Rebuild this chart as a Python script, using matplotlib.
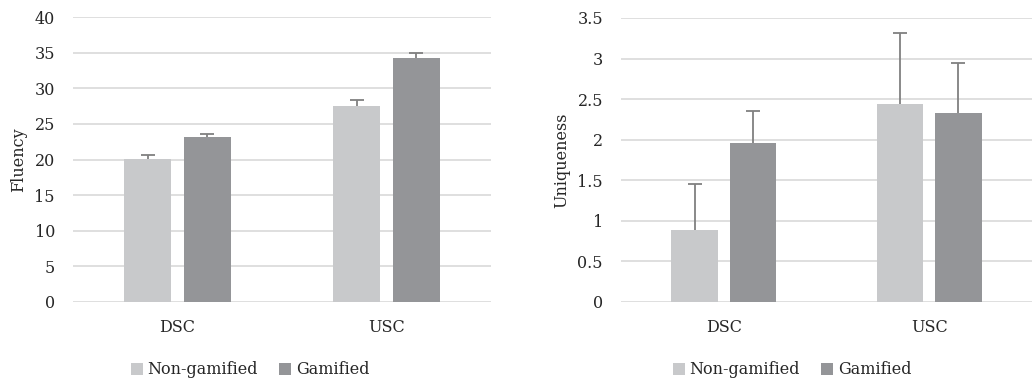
import matplotlib.pyplot as plt
import numpy as np

# ----------------------------------------------------
# Data
# ----------------------------------------------------
categories = ["DSC", "USC"]
series = ["Non-gamified", "Gamified"]

fluency_non = [20.1, 27.5]
fluency_non_err = [0.6, 0.9]
fluency_gam = [23.2, 34.3]
fluency_gam_err = [0.4, 0.6]

unique_non = [0.89, 2.44]
unique_non_err = [0.57, 0.87]
unique_gam = [1.96, 2.33]
unique_gam_err = [0.39, 0.61]

light = "#c8c9cb"
dark = "#949598"
errc = "#808080"
gridc = "#d9d9d9"

plt.rcParams['font.family'] = ['DejaVu Serif']
plt.rcParams['font.size'] = 11

fig = plt.figure(figsize=(10.35, 3.83), dpi=100)
W, H = 1035, 383

def upper_err(ax, xs, vals, errs):
    # only the upper half of the error bar, with a cap on top
    top = np.array(vals) + np.array(errs)
    ax.errorbar(xs, vals, yerr=[[0] * len(vals), errs], fmt='none',
                ecolor=errc, elinewidth=1.3, capsize=0, zorder=3)
    ax.plot(xs, top, linestyle='none', marker='_', markersize=10,
            markeredgewidth=1.3, color=errc, zorder=3)

def bar_panel(rect, non, non_err, gam, gam_err, ylim, step, ylabel, leg_x):
    ax = fig.add_axes(rect)
    x = np.arange(len(categories))
    w = 0.225
    off = 0.142
    ax.bar(x - off, non, w, color=light, label=series[0], zorder=2)
    upper_err(ax, x - off, non, non_err)
    ax.bar(x + off, gam, w, color=dark, label=series[1], zorder=2)
    upper_err(ax, x + off, gam, gam_err)
    ax.set_xlim(-0.5, len(categories) - 0.5)
    ax.set_ylim(*ylim)
    ticks = np.arange(ylim[0], ylim[1] + step / 2, step)
    ax.set_yticks(ticks)
    ax.set_yticklabels([f"{t:g}" for t in ticks])
    ax.set_xticks(x)
    ax.set_xticklabels(categories)
    ax.grid(axis='y', color=gridc, linewidth=1.2, zorder=0)
    ax.set_axisbelow(True)
    for s in ax.spines.values():
        s.set_visible(False)
    ax.tick_params(axis='both', length=0, colors="#262626", labelsize=11.5)
    ax.tick_params(axis='y', pad=13)
    ax.tick_params(axis='x', pad=12)
    ax.set_ylabel(ylabel, fontsize=11.5, color="#262626", labelpad=5)
    ax.legend(loc='center', bbox_to_anchor=(leg_x / W, 1 - 370 / H),
              bbox_transform=fig.transFigure, ncol=2, frameon=False,
              handlelength=0.75, handleheight=0.75, handletextpad=0.3,
              columnspacing=1.3, fontsize=11.5, labelcolor="#262626")
    return ax

bar_panel([73 / W, 1 - 302 / H, 418 / W, 285 / H],
          fluency_non, fluency_non_err, fluency_gam, fluency_gam_err,
          (0, 40), 5, "Fluency", 250)
bar_panel([621 / W, 1 - 302 / H, 411 / W, 284 / H],
          unique_non, unique_non_err, unique_gam, unique_gam_err,
          (0, 3.5), 0.5, "Uniqueness", 792)

fig.savefig("out.png", dpi=100)
